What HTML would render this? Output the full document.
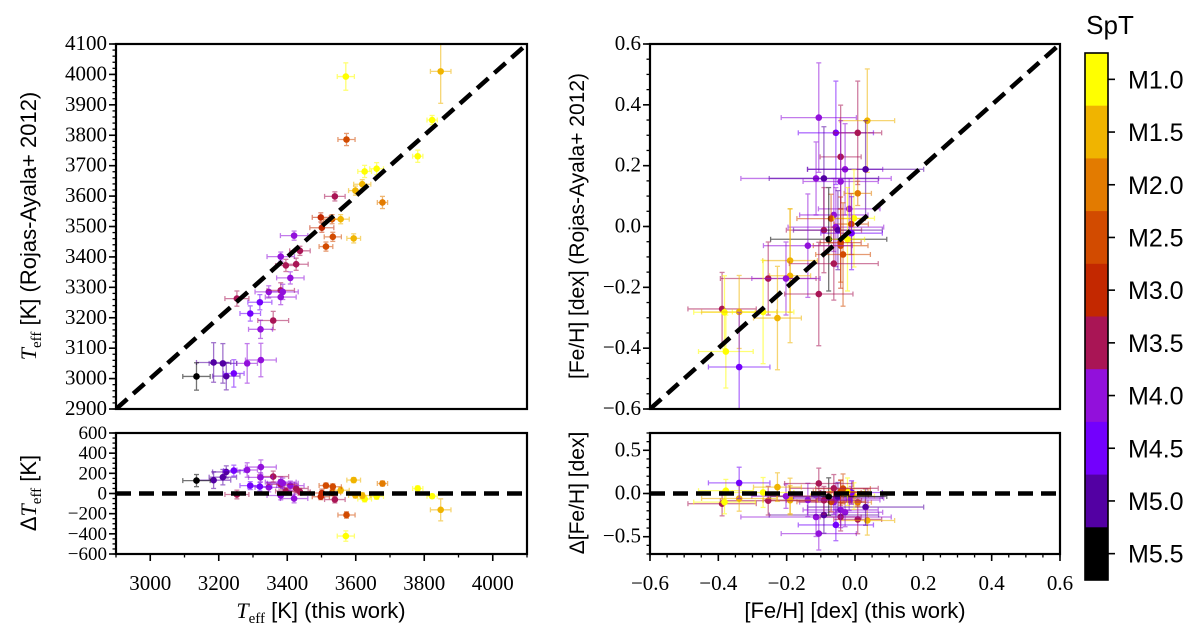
<!DOCTYPE html>
<html><head><meta charset="utf-8">
<style>
html,body{margin:0;padding:0;background:#fff;}
svg{display:block;}
text{font-family:"Liberation Serif",serif;}
.sans{font-family:"Liberation Sans",sans-serif;}
</style></head>
<body>
<svg id="fig" width="1200" height="627" viewBox="0 0 1200 627" xmlns="http://www.w3.org/2000/svg">
<g id="axes"></g>
<g id="colorbar"></g>
<text class="sans" x="1110" y="34" font-size="26" text-anchor="middle">SpT</text>
<text class="sans" transform="translate(36,226) rotate(-90)" font-size="22" text-anchor="middle"><tspan font-family="Liberation Serif" font-style="italic">T</tspan><tspan font-family="Liberation Serif" font-size="15" dy="5">eff</tspan><tspan dy="-5"> [K] (Rojas-Ayala+ 2012)</tspan></text>
<text class="sans" transform="translate(36,493) rotate(-90)" font-size="22" text-anchor="middle">Δ<tspan font-family="Liberation Serif" font-style="italic">T</tspan><tspan font-family="Liberation Serif" font-size="15" dy="5">eff</tspan><tspan dy="-5"> [K]</tspan></text>
<text class="sans" x="321" y="618" font-size="22" text-anchor="middle"><tspan font-family="Liberation Serif" font-style="italic">T</tspan><tspan font-family="Liberation Serif" font-size="15" dy="5">eff</tspan><tspan dy="-5"> [K] (this work)</tspan></text>
<text class="sans" transform="translate(584,226) rotate(-90)" font-size="21" text-anchor="middle">[Fe/H] [dex] (Rojas-Ayala+ 2012)</text>
<text class="sans" transform="translate(584,493) rotate(-90)" font-size="21" text-anchor="middle">Δ[Fe/H] [dex]</text>
<text class="sans" x="855" y="618" font-size="22" text-anchor="middle">[Fe/H] [dex] (this work)</text>
</svg>
<script>
// Spectral type bins (index 0 = M1.0 ... 9 = M5.5)
const sptLabels = ["M1.0","M1.5","M2.0","M2.5","M3.0","M3.5","M4.0","M4.5","M5.0","M5.5"];
const sptColors = ["#ffff00","#f0b400","#e37b00","#d24b00","#c32800","#a91555","#9210db","#7300fd","#5300a3","#000000"];

// Teff panel data
const teffThis = [3571,3848,3823,3573,3781,3626,3661,3619,3599,3539,3678,3498,3531,3556,3501,3420,3533,3594,3513,3437,3381,3396,3426,3409,3253,3346,3381,3387,3381,3320,3292,3359,3322,3323,3283,3185,3212,3222,3244,3135];
const teffRA   = [3993,4010,3850,3786,3731,3681,3690,3639,3618,3599,3579,3530,3524,3524,3496,3470,3466,3461,3434,3420,3401,3372,3376,3331,3263,3285,3290,3285,3268,3251,3214,3191,3162,3061,3050,3053,3050,3008,3017,3007];
const teffSpt  = [0,1,0,3,0,0,0,1,1,5,2,4,3,1,4,6,3,1,3,5,6,5,5,6,5,6,5,6,6,7,7,5,6,6,6,8,8,8,7,9];
const teffXerr = [25,30,15,25,15,20,20,25,20,30,15,25,25,25,35,40,25,20,20,30,40,30,35,40,35,40,40,45,45,35,30,45,35,45,30,50,40,40,30,40];
const teffYerr = [45,105,15,20,20,20,20,15,15,15,20,15,15,15,15,15,15,15,15,15,15,20,20,20,25,20,25,25,25,25,25,30,30,55,65,65,65,45,45,45];

// [Fe/H] panel data
const fehThis = [-0.106,-0.056,0.008,0.036,-0.042,-0.029,0.031,-0.114,-0.091,-0.042,0.008,-0.017,-0.062,-0.070,-0.003,-0.011,-0.056,-0.091,-0.050,-0.010,-0.077,-0.022,-0.042,-0.042,-0.035,-0.138,-0.190,-0.062,-0.190,-0.254,-0.202,-0.106,-0.389,-0.382,-0.339,-0.269,-0.227,-0.378,-0.339];
const fehRA   = [0.358,0.308,0.308,0.348,0.229,0.188,0.188,0.158,0.158,0.148,0.109,0.058,0.038,0.026,0.027,0.008,-0.002,-0.012,-0.012,-0.022,-0.042,-0.042,-0.053,-0.063,-0.092,-0.063,-0.112,-0.122,-0.162,-0.171,-0.171,-0.222,-0.271,-0.282,-0.281,-0.281,-0.301,-0.411,-0.462];
const fehSpt  = [6,7,5,1,5,6,8,6,8,6,2,6,6,3,0,3,6,5,8,7,9,0,4,3,3,6,1,5,1,5,6,5,5,0,1,0,1,0,7];
const fehXerr = [0.11,0.11,0.07,0.08,0.06,0.11,0.17,0.22,0.16,0.11,0.04,0.09,0.10,0.10,0.06,0.05,0.14,0.11,0.13,0.09,0.17,0.05,0.06,0.08,0.08,0.13,0.08,0.13,0.06,0.14,0.10,0.10,0.10,0.09,0.11,0.09,0.07,0.08,0.09];
const fehYerr = [0.18,0.17,0.17,0.17,0.17,0.15,0.16,0.12,0.17,0.20,0.04,0.10,0.12,0.08,0.16,0.10,0.13,0.14,0.13,0.12,0.17,0.17,0.15,0.12,0.17,0.17,0.17,0.12,0.22,0.12,0.12,0.17,0.12,0.12,0.12,0.17,0.17,0.12,0.18];

const NS="http://www.w3.org/2000/svg";
const root=document.getElementById('axes');
function mk(tag,attrs,parent){const e=document.createElementNS(NS,tag);for(const k in attrs)e.setAttribute(k,attrs[k]);(parent||root).appendChild(e);return e;}
function lin(d0,d1,r0,r1){return v=>r0+(v-d0)/(d1-d0)*(r1-r0);}

function panel(name,x0,x1,y0,y1,xd,yd,opts){
  const g=mk('g',{});
  
  
  const sx=lin(xd[0],xd[1],x0,x1), sy=lin(yd[0],yd[1],y1,y0);
  const clipId='c'+name;
  const cp=mk('clipPath',{id:clipId},g);mk('rect',{x:x0,y:y0,width:x1-x0,height:y1-y0},cp);
  const inner=mk('g',{'clip-path':'url(#'+clipId+')'},g);
  // y ticks
  const eps=1e-9;
  for(let v=yd[0];v<=yd[1]+eps;v+=opts.yMinor){const y=sy(v);mk('line',{x1:x0-3.5,x2:x0,y1:y,y2:y,stroke:'#000','stroke-width':1.3},g);}
  opts.yMajor.forEach((v,i)=>{const y=sy(v);mk('line',{x1:x0-7,x2:x0,y1:y,y2:y,stroke:'#000','stroke-width':1.6},g);
    const t=mk('text',{x:x0-9,y:y+6,'font-size':opts.yFont||21,'text-anchor':'end'},g);t.textContent=opts.yLabels[i];
    
    });
  if(opts.xMajor){
    for(let v=xd[0];v<=xd[1]+eps;v+=opts.xMinor){const x=sx(v);mk('line',{x1:x,x2:x,y1:y1,y2:y1+3.5,stroke:'#000','stroke-width':1.3},g);}
    opts.xMajor.forEach((v,i)=>{const x=sx(v);mk('line',{x1:x,x2:x,y1:y1,y2:y1+7,stroke:'#000','stroke-width':1.6},g);
      const t=mk('text',{x:x,y:y1+36,'font-size':21,'text-anchor':'middle'},g);t.textContent=opts.xLabels[i];
      
      });
  }
  return {g,inner,sx,sy};
}
function errpt(p,x,y,xe,ye,col,name){
  const e=mk('g',{stroke:col,'stroke-width':1.3,opacity:0.55},p.inner);
  mk('line',{x1:p.sx(x-xe),x2:p.sx(x+xe),y1:p.sy(y),y2:p.sy(y)},e);
  mk('line',{x1:p.sx(x),x2:p.sx(x),y1:p.sy(y-ye),y2:p.sy(y+ye)},e);
  mk('line',{x1:p.sx(x-xe),x2:p.sx(x-xe),y1:p.sy(y)-2.5,y2:p.sy(y)+2.5},e);
  mk('line',{x1:p.sx(x+xe),x2:p.sx(x+xe),y1:p.sy(y)-2.5,y2:p.sy(y)+2.5},e);
  mk('line',{x1:p.sx(x)-2.5,x2:p.sx(x)+2.5,y1:p.sy(y-ye),y2:p.sy(y-ye)},e);
  mk('line',{x1:p.sx(x)-2.5,x2:p.sx(x)+2.5,y1:p.sy(y+ye),y2:p.sy(y+ye)},e);
  const c=mk('circle',{cx:p.sx(x),cy:p.sy(y),r:3.3,fill:col},p.inner);
  
  
}
function frame(p,x0,x1,y0,y1){mk('rect',{x:x0,y:y0,width:x1-x0,height:y1-y0,fill:'none',stroke:'#000','stroke-width':2.2},p.g);}

// Panel geometry
const LX0=116,LX1=527,RX0=650,RX1=1060,TY0=44,TY1=409,BY0=433,BY1=554;

// Top-left
const pTL=panel('teff-comparison-panel',LX0,LX1,TY0,TY1,[2900,4100],[2900,4100],
 {yMinor:20,yMajor:[2900,3000,3100,3200,3300,3400,3500,3600,3700,3800,3900,4000,4100],
  yLabels:['2900','3000','3100','3200','3300','3400','3500','3600','3700','3800','3900','4000','4100']});
teffThis.forEach((v,i)=>errpt(pTL,v,teffRA[i],teffXerr[i],teffYerr[i],sptColors[teffSpt[i]],'teff-point'));
mk('line',{x1:pTL.sx(2900),y1:pTL.sy(2900),x2:pTL.sx(4100),y2:pTL.sy(4100),stroke:'#000','stroke-width':4.5,'stroke-dasharray':'15 8'},pTL.inner);
frame(pTL,LX0,LX1,TY0,TY1);

// Bottom-left
const pBL=panel('teff-residual-panel',LX0,LX1,BY0,BY1,[2900,4100],[-600,600],
 {yMinor:50,yMajor:[-600,-400,-200,0,200,400,600],yLabels:['−600','−400','−200','0','200','400','600'],yFont:19,
  xMinor:100,xMajor:[3000,3200,3400,3600,3800,4000],xLabels:['3000','3200','3400','3600','3800','4000']});
teffThis.forEach((v,i)=>errpt(pBL,v,v-teffRA[i],teffXerr[i],Math.sqrt(teffXerr[i]**2+teffYerr[i]**2),sptColors[teffSpt[i]],'teff-residual-point'));
mk('line',{x1:LX0,x2:LX1,y1:pBL.sy(0),y2:pBL.sy(0),stroke:'#000','stroke-width':4.5,'stroke-dasharray':'15 8'},pBL.inner);
frame(pBL,LX0,LX1,BY0,BY1);

// Top-right
const pTR=panel('feh-comparison-panel',RX0,RX1,TY0,TY1,[-0.6,0.6],[-0.6,0.6],
 {yMinor:0.05,yMajor:[-0.6,-0.4,-0.2,0,0.2,0.4,0.6],yLabels:['−0.6','−0.4','−0.2','0.0','0.2','0.4','0.6']});
fehThis.forEach((v,i)=>errpt(pTR,v,fehRA[i],fehXerr[i],fehYerr[i],sptColors[fehSpt[i]],'feh-point'));
mk('line',{x1:pTR.sx(-0.6),y1:pTR.sy(-0.6),x2:pTR.sx(0.6),y2:pTR.sy(0.6),stroke:'#000','stroke-width':4.5,'stroke-dasharray':'15 8'},pTR.inner);
frame(pTR,RX0,RX1,TY0,TY1);

// Bottom-right
const pBR=panel('feh-residual-panel',RX0,RX1,BY0,BY1,[-0.6,0.6],[-0.7,0.7],
 {yMinor:0.1,yMajor:[-0.5,0,0.5],yLabels:['−0.5','0.0','0.5'],
  xMinor:0.05,xMajor:[-0.6,-0.4,-0.2,0,0.2,0.4,0.6],xLabels:['−0.6','−0.4','−0.2','0.0','0.2','0.4','0.6']});
fehThis.forEach((v,i)=>errpt(pBR,v,v-fehRA[i],fehXerr[i],Math.sqrt(fehXerr[i]**2+fehYerr[i]**2)*0.9,sptColors[fehSpt[i]],'feh-residual-point'));
mk('line',{x1:RX0,x2:RX1,y1:pBR.sy(0),y2:pBR.sy(0),stroke:'#000','stroke-width':4.5,'stroke-dasharray':'15 8'},pBR.inner);
frame(pBR,RX0,RX1,BY0,BY1);

// Colorbar
const cb=document.getElementById('colorbar');
const CBX=1085,CBW=23,CBY0=53,CBY1=580,bh=(CBY1-CBY0)/sptLabels.length;
sptLabels.forEach((lab,i)=>{
  const r=mk('rect',{x:CBX,y:CBY0+i*bh,width:CBW,height:bh+0.5,fill:sptColors[i]},cb);
  
  
  const y=CBY0+(i+0.5)*bh;
  mk('line',{x1:CBX+CBW,x2:CBX+CBW+7,y1:y,y2:y,stroke:'#000','stroke-width':1.6},cb);
  const t=mk('text',{x:CBX+CBW+20,y:y+9,'font-size':25,class:'sans'},cb);t.textContent=lab;
  
  
});
mk('rect',{x:CBX,y:CBY0,width:CBW,height:CBY1-CBY0,fill:'none',stroke:'#000','stroke-width':1.6},cb);
</script>
</body></html>
